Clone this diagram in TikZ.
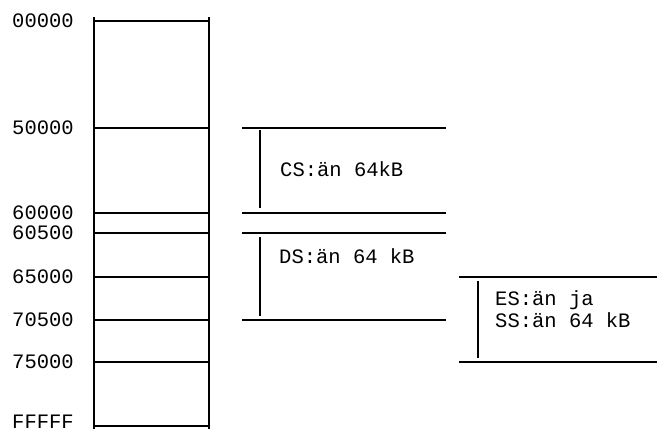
\documentclass[tikz,border=0pt]{standalone}
\usepackage{fontspec}
\setmonofont{Liberation Mono}
\usetikzlibrary{positioning,calc}
\tikzset{
  txt/.style={anchor=base west,inner sep=0pt,font=\ttfamily\fontsize{20.5}{22}\selectfont},
  seg/.style={line width=1.3pt},
  wall/.style={line width=1.8pt},
  bar/.style={line width=1.4pt},
}
% one address: name, row (px from top), label
\newcommand{\addr}[3]{%
  \node[txt] (a#1) at (12,#2+6) {#3};
  \draw[seg] (94,#2) -- (209,#2);}
% a window of the middle or right column: name, left, right, top, bottom
\newcommand{\win}[5]{%
  \coordinate (#1tl) at (#2,#4); \coordinate (#1tr) at (#3,#4);
  \coordinate (#1bl) at (#2,#5); \coordinate (#1br) at (#3,#5);
  \draw[seg] (#1tl) -- (#1tr);
  \draw[seg] (#1bl) -- (#1br);}

\begin{document}
\begin{tikzpicture}[x=1pt,y=-1pt]
\useasboundingbox (0,0) rectangle (657,432);
% left column
\coordinate (top) at (94,17);
\coordinate (bot) at (94,429);
\draw[wall] (top) -- (bot);
\draw[wall] (top -| 209,0) -- (bot -| 209,0);
\addr{0}{21}{00000}
\addr{5}{128}{50000}
\addr{6}{213}{60000}
\addr{65}{233}{60500}
\addr{7}{277}{65000}
\addr{75}{320}{70500}
\addr{8}{362}{75000}
% last row sits on the page edge
\node[txt] (af) at (12,428) {FFFFF};
\draw[seg] (94,426) -- (209,426);
% segments
\win{cs}{242}{446}{128}{213}
\win{ds}{242}{446}{233}{320}
\win{es}{459}{657}{277}{362}
\draw[bar] (260,130) -- (260,208);
\draw[bar] (260,237) -- (260,316);
\draw[bar] (478,281) -- (478,358);
\node[txt] (cs) at (280,176) {CS:än 64kB};
\node[txt] (ds) at (279,263) {DS:än 64 kB};
\node[txt] (es) at (495,305) {ES:än ja};
\node[txt] (ss) at (495,327) {SS:än 64 kB};
\end{tikzpicture}
\end{document}
